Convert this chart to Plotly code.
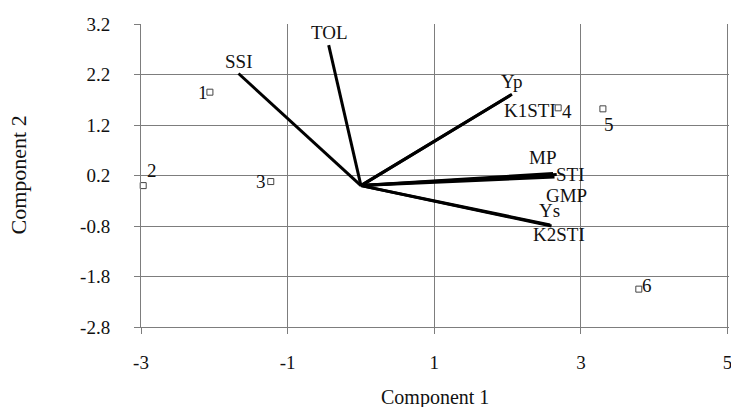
import plotly.graph_objects as go

# Variable vectors (loadings) – end points
var_names = ["SSI", "TOL", "Yp", "K1STI", "MP", "STI", "GMP", "Ys", "K2STI"]
var_x = [-1.67, -0.44, 2.06, 2.04, 2.62, 2.67, 2.64, 2.58, 2.60]
var_y = [2.22, 2.78, 1.81, 1.79, 0.24, 0.22, 0.17, -0.78, -0.80]

# Genotype scores
gen_names = ["1", "2", "3", "4", "5", "6"]
gen_x = [-2.06, -2.97, -1.23, 2.69, 3.30, 3.79]
gen_y = [1.85, 0.00, 0.08, 1.54, 1.52, -2.05]

# Tick labels
x_ticks = [-3, -1, 1, 3, 5]
x_ticklabels = ["-3", "-1", "1", "3", "5"]
y_ticks = [-2.8, -1.8, -0.8, 0.2, 1.2, 2.2, 3.2]
y_ticklabels = ["-2.8", "-1.8", "-0.8", "0.2", "1.2", "2.2", "3.2"]

# label pixel offsets (style)
var_off = {"SSI": (0, 12), "TOL": (1, 13), "Yp": (0, 13), "K1STI": (19, -15),
           "MP": (-11, 16), "STI": (14, 0), "GMP": (12, -18), "Ys": (-1, 14),
           "K2STI": (7, -8)}
gen_off = {"1": (-7, 0), "2": (9, 15), "3": (-10, 0), "4": (9, -4),
           "5": (6, -16), "6": (8, 4)}

FONT = "Liberation Serif"
fig = go.Figure()

for n, x, y in zip(var_names, var_x, var_y):
    fig.add_trace(go.Scatter(x=[0, x], y=[0, y], mode="lines",
                             line=dict(color="black", width=3),
                             showlegend=False, hoverinfo="skip"))

fig.add_trace(go.Scatter(x=gen_x, y=gen_y, mode="markers",
                         marker=dict(symbol="square-open", size=6,
                                     color="#444", line=dict(width=1)),
                         cliponaxis=False, showlegend=False))

anns = []
for n, x, y in zip(var_names, var_x, var_y):
    dx, dy = var_off[n]
    anns.append(dict(x=x, y=y, text=n, showarrow=False, xshift=dx, yshift=dy,
                     font=dict(family=FONT, size=19, color="#111")))
for n, x, y in zip(gen_names, gen_x, gen_y):
    dx, dy = gen_off[n]
    anns.append(dict(x=x, y=y, text=n, showarrow=False, xshift=dx, yshift=dy,
                     font=dict(family=FONT, size=19, color="#111")))

anns.append(dict(xref="paper", yref="paper", x=0.5, y=0, yshift=-70,
                 text="Component 1", showarrow=False, yanchor="middle",
                 font=dict(family=FONT, size=20, color="#111")))
anns.append(dict(xref="paper", yref="paper", x=0, y=0.5, xshift=-123,
                 text="Component 2", showarrow=False, textangle=-90,
                 xanchor="center",
                 font=dict(family=FONT, size=22, color="#111")))

axis_common = dict(showgrid=True, gridcolor="#7d7d7d", gridwidth=1,
                   showline=True, linecolor="#7d7d7d", linewidth=1,
                   ticks="outside", ticklen=6, tickcolor="#7d7d7d",
                   zeroline=False, ticklabeloverflow="allow",
                   automargin=False,
                   tickfont=dict(family=FONT, size=19, color="#111"))

fig.update_layout(
    width=731, height=407,
    margin=dict(l=141, r=2, t=24, b=80),
    plot_bgcolor="white", paper_bgcolor="white",
    xaxis=dict(range=[-3, 5.02], tickmode="array", tickvals=x_ticks,
               ticktext=x_ticklabels, ticklabelstandoff=12, **axis_common),
    yaxis=dict(range=[-2.8, 3.2], tickmode="array", tickvals=y_ticks,
               ticktext=y_ticklabels, ticklabelstandoff=20, **axis_common),
    annotations=anns,
)

fig.write_html("out.html")
